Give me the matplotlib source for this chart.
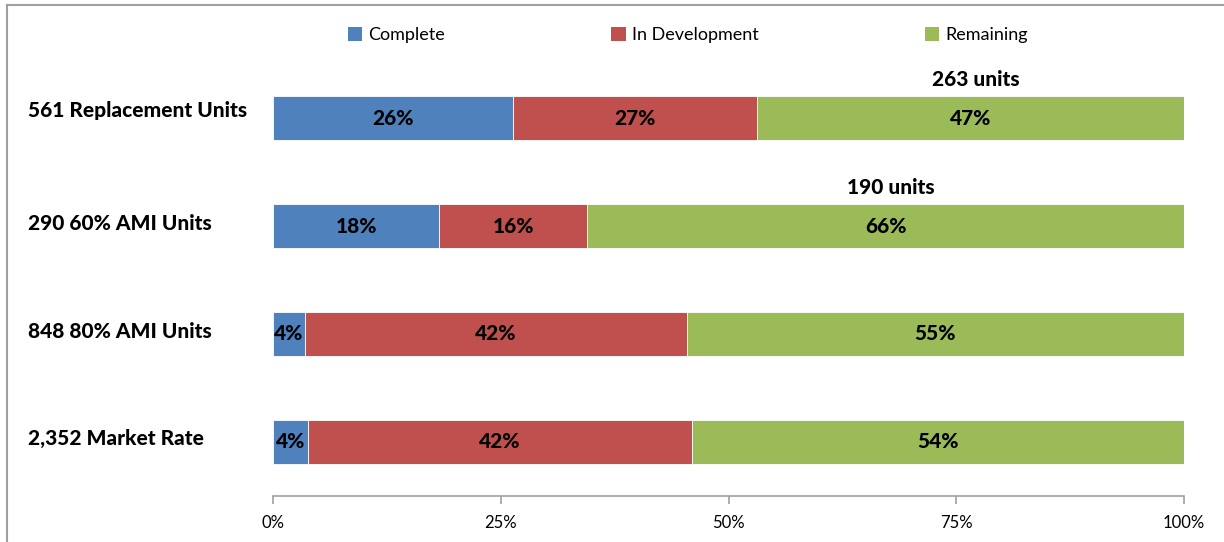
import matplotlib
matplotlib.use("Agg")
import matplotlib.pyplot as plt
from matplotlib.transforms import blended_transform_factory
from matplotlib.patches import Patch
from matplotlib.lines import Line2D

categories = ["561 Replacement Units", "290 60% AMI Units", "848 80% AMI Units", "2,352 Market Rate"]
series_names = ["Complete", "In Development", "Remaining"]
complete_units = [148, 53, 30, 90]
dev_units = [150, 47, 355, 992]
remaining_units = [263, 190, 463, 1270]
unit_notes = ["263 units", "190 units", None, None]
xticks = [0, 25, 50, 75, 100]
xtick_labels = ["0%", "25%", "50%", "75%", "100%"]

colors = ["#4F81BD", "#C0504D", "#9BBB59"]

plt.rcParams['font.family'] = ['Lato', 'DejaVu Sans']
BOLD = 900
BSIZE = 15

W, H = 1224, 542
fig = plt.figure(figsize=(W / 100, H / 100), dpi=100)
ax = fig.add_axes([273 / W, 46 / H, (1184 - 273) / W, (496 - 64) / H])

series = [complete_units, dev_units, remaining_units]
totals = [sum(v) for v in zip(*series)]
pcts = [[100.0 * s[i] / totals[i] for i in range(len(categories))] for s in series]

ypos = list(range(len(categories)))
left = [0.0] * len(categories)
for k, (name, vals) in enumerate(zip(series_names, pcts)):
    ax.barh(ypos, vals, left=left, height=0.4, color=colors[k], edgecolor="white",
            linewidth=0.6, label=name)
    for i, v in enumerate(vals):
        ax.text(left[i] + v / 2, i, f"{v:.0f}%", ha="center", va="center",
                fontsize=BSIZE, fontweight=BOLD, color="black")
    left = [l + v for l, v in zip(left, vals)]

# unit notes above remaining segments
for i, note in enumerate(unit_notes):
    if note:
        start = pcts[0][i] + pcts[1][i]
        cx = start + pcts[2][i] / 2 + 0.6
        ax.text(cx, i - 0.36, note, ha="center", va="center", fontsize=BSIZE,
                fontweight=BOLD, color="black")

ax.set_xlim(0, 100)
ax.set_ylim(3.5, -0.5)
ax.set_xticks(xticks)
ax.set_xticklabels(xtick_labels, fontsize=12)
ax.set_yticks([])
for s in ["top", "right", "left"]:
    ax.spines[s].set_visible(False)
ax.spines["bottom"].set_color("#A0A0A0")
ax.spines["bottom"].set_linewidth(1.2)
ax.tick_params(axis="x", direction="out", length=6, width=1.2, color="#A0A0A0", pad=8)

# category labels, left aligned
tr = blended_transform_factory(fig.transFigure, ax.transData)
label_offsets = [-0.07, -0.02, -0.02, -0.03]
for i, c in enumerate(categories):
    ax.text(28 / W, i + label_offsets[i], c, transform=tr, ha="left", va="center",
            fontsize=BSIZE, fontweight=BOLD, color="black")

# legend
handles = [Patch(facecolor=colors[k], edgecolor="none") for k in range(3)]
fig.legend(handles, series_names, loc="center", bbox_to_anchor=(688 / W, 1 - 35 / H),
           ncol=3, frameon=False, fontsize=13, handlelength=0.8, handleheight=0.8,
           handletextpad=0.35, columnspacing=9.2)

# outer frame (top and left visible)
fig.add_artist(Line2D([7 / W, 1.0], [1 - 5 / H, 1 - 5 / H], transform=fig.transFigure,
                      color="#A0A0A0", linewidth=1.5))
fig.add_artist(Line2D([7 / W, 7 / W], [0, 1 - 5 / H], transform=fig.transFigure,
                      color="#A0A0A0", linewidth=1.5))

fig.savefig("out.png", dpi=100)
